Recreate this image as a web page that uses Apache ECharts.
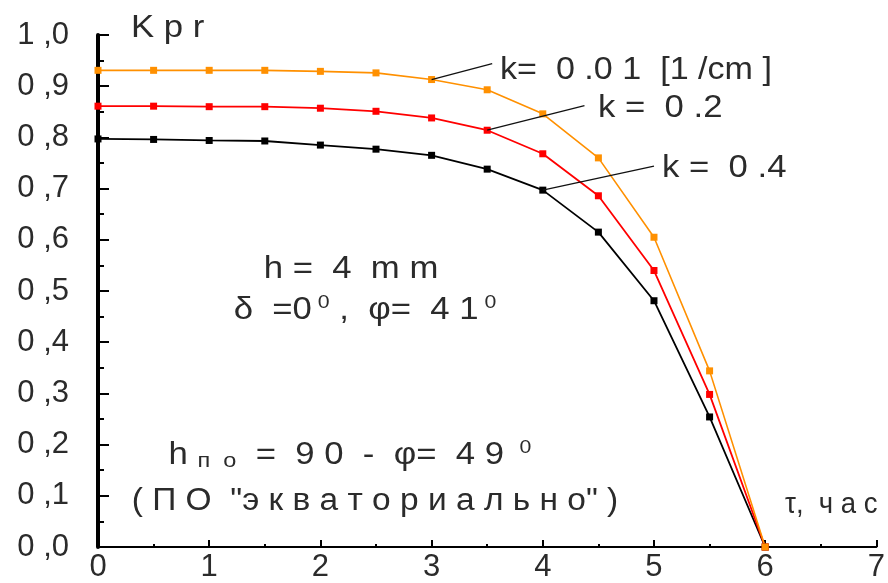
<!DOCTYPE html>
<html>
<head>
<meta charset="utf-8">
<script src="https://cdn.jsdelivr.net/npm/echarts@6/dist/echarts.min.js"></script>
<style>
html,body{margin:0;padding:0;background:#fff;}
#chart{width:888px;height:583px;}
</style>
</head>
<body>
<div id="chart"></div>
<script>
// Time, hours
const tau = [0, 0.5, 1, 1.5, 2, 2.5, 3, 3.5, 4, 4.5, 5, 5.5, 6];
// Kpr for absorption coefficient k = 0.01, 0.2, 0.4 [1/cm]
const kpr001 = [0.931, 0.931, 0.931, 0.931, 0.929, 0.926, 0.913, 0.893, 0.846, 0.760, 0.605, 0.344, 0.0];
const kpr02  = [0.861, 0.861, 0.860, 0.860, 0.857, 0.851, 0.838, 0.814, 0.768, 0.686, 0.540, 0.298, 0.0];
const kpr04  = [0.797, 0.796, 0.794, 0.793, 0.785, 0.777, 0.765, 0.738, 0.697, 0.615, 0.481, 0.254, 0.0];
// Leader lines from a curve point to its label
const lead001 = [[3.0, 0.913], [3.545, 0.944]];
const lead02  = [[3.5, 0.814], [4.375, 0.862]];
const lead04  = [[4.0, 0.697], [5.0, 0.744]];
const yTicks = ['0,0','0,1','0,2','0,3','0,4','0,5','0,6','0,7','0,8','0,9','1,0'];

const FONT = '"Liberation Sans", Arial, sans-serif';
const TXT = '#2b2b2b';
const FS = 31;

function pairs(xs, ys) { return xs.map((x, i) => [x, ys[i]]); }

function curve(data, color, w) {
  return {
    type: 'line', data: data, symbol: 'rect', symbolSize: 7,
    lineStyle: {color: color, width: w}, itemStyle: {color: color},
    animation: false, z: 3
  };
}
function leader(data) {
  return {
    type: 'line', data: data, symbol: 'none',
    lineStyle: {color: '#111', width: 1.3}, animation: false, z: 4
  };
}
function label(x, y, text, align, sx, extra) {
  return {
    type: 'text', x: x, y: y, scaleX: sx, z: 10,
    style: Object.assign({
      text: text, fill: TXT, font: FS + 'px ' + FONT,
      align: align, verticalAlign: 'middle'
    }, extra || {})
  };
}

const chart = echarts.init(document.getElementById('chart'));
const rich = {
  a: {fontSize: FS, fontFamily: FONT, color: TXT, lineHeight: 34},
  s: {fontSize: 19, fontFamily: FONT, color: TXT, lineHeight: 34, verticalAlign: 'top', padding: [0, 0, 14, 0]},
  b: {fontSize: 21, fontFamily: FONT, color: TXT, lineHeight: 34, verticalAlign: 'bottom', padding: [12, 0, 0, 0]}
};
chart.setOption({
  backgroundColor: '#fff',
  animation: false,
  grid: {left: 98, right: 8, top: 35, bottom: 28, containLabel: false},
  xAxis: {
    type: 'value', min: 0, max: 7, interval: 1,
    axisLine: {show: true, onZero: false, lineStyle: {color: '#000', width: 2}},
    axisTick: {show: true, inside: true, length: 7, lineStyle: {color: '#000', width: 2}},
    minorTick: {show: true, splitNumber: 2, length: 3, lineStyle: {color: '#000', width: 2}},
    splitLine: {show: false},
    axisLabel: {show: true, margin: 5, fontSize: FS, fontFamily: FONT, color: TXT, verticalAlign: 'top'}
  },
  yAxis: {
    type: 'value', min: 0, max: 1.0, interval: 0.1,
    axisLine: {show: true, onZero: false, lineStyle: {color: '#000', width: 4}},
    axisTick: {show: true, inside: true, length: 11, lineStyle: {color: '#000', width: 2}},
    minorTick: {show: true, splitNumber: 2, length: 6, lineStyle: {color: '#000', width: 2}},
    splitLine: {show: false},
    axisLabel: {
      show: true, margin: 29, fontSize: FS, fontFamily: FONT, color: TXT,
      formatter: function (v) {
        const s = yTicks[Math.round(v * 10)];
        return s ? s.replace(',', ' ,') : '';
      }
    }
  },
  series: [
    curve(pairs(tau, kpr04), '#000000', 1.8),
    curve(pairs(tau, kpr02), '#ff0000', 1.8),
    curve(pairs(tau, kpr001), '#ff9000', 1.6),
    leader(lead001), leader(lead02), leader(lead04)
  ],
  graphic: [
    label(131, 28, 'K p r', 'left', 1.12),
    label(500, 70, 'k=  0 .0 1  [1 /cm ]', 'left', 1.1),
    label(598, 108, 'k =  0 .2', 'left', 1.12),
    label(662, 168, 'k =  0 .4', 'left', 1.12),
    label(351, 269, 'h =  4  m m', 'center', 1.12),
    label(365, 310, '{a|δ  =0}{s| 0}{a| ,  φ=  4 1}{s| 0}', 'center', 1.12, {rich: rich}),
    label(350, 455, '{a|h }{b|п  о}{a|  =  9 0  -  φ=  4 9 }{s| 0}', 'center', 1.12, {rich: rich}),
    label(375, 501, '( П О  "э к в а т о р и а л ь н о" )', 'center', 1.08),
    label(785, 505, 'τ,  ч а с', 'left', 0.95, {font: '29px ' + FONT})
  ]
});
</script>
</body>
</html>
